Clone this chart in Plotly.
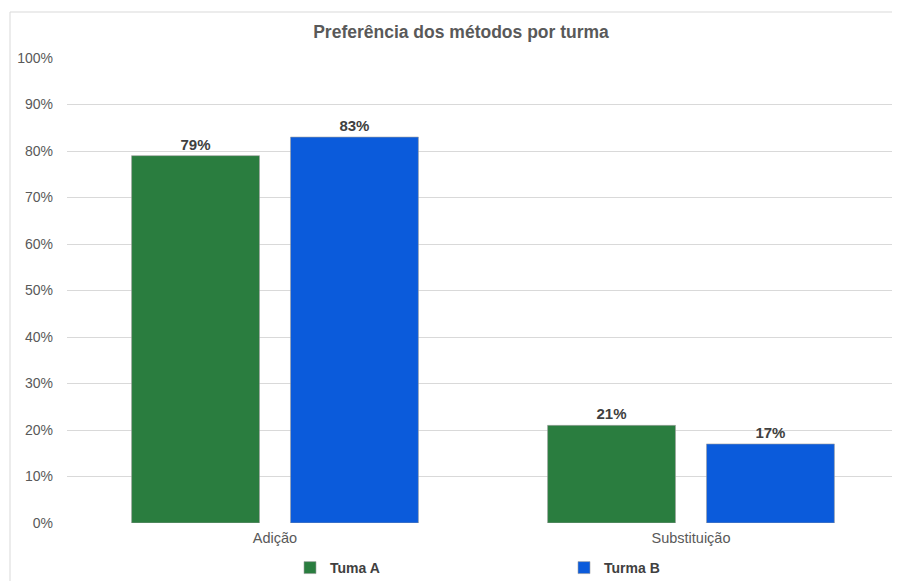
import plotly.graph_objects as go

categories = ["Adição", "Substituição"]
turma_a = [79, 21]
turma_b = [83, 17]
series_names = ["Tuma A", "Turma B"]
tick_vals = [0, 10, 20, 30, 40, 50, 60, 70, 80, 90, 100]
tick_text = [f"{v}%" for v in tick_vals]

green = "#2a7d3f"
blue = "#0b5bdb"
label_font = dict(family="Liberation Sans, Arial", size=15, color="#404040")

fig = go.Figure()
for name, vals, col in [(series_names[0], turma_a, green), (series_names[1], turma_b, blue)]:
    fig.add_trace(go.Bar(
        x=categories, y=vals, name=f"<b>{name}</b>",
        marker=dict(color=col, line=dict(color="rgba(160,160,160,0.6)", width=1)),
        text=[f"<b>{v}%</b>" for v in vals], textposition="outside",
        textfont=label_font, cliponaxis=False,
    ))

# page body has an 8px offset; figure sized to fit the window
OFF = 8
W, H = 892, 573
L, R, T, B = 67 - OFF, 1, 58 - OFF, 58
pw = W - L - R
ph = H - T - B

fig.update_layout(
    width=W, height=H,
    margin=dict(l=L, r=R, t=T, b=B, autoexpand=False),
    paper_bgcolor="white", plot_bgcolor="white",
    barmode="group", bargap=0.236, bargroupgap=0.195,
    title=dict(text="<b>Preferência dos métodos por turma</b>", x=(461 - OFF) / W, xanchor="center",
               y=1 - (32 - OFF) / H, yanchor="middle",
               font=dict(family="Liberation Sans, Arial", size=17.5, color="#595959")),
    font=dict(family="Liberation Sans, Arial", size=14, color="#595959"),
    yaxis=dict(range=[0, 100], tickvals=tick_vals, ticktext=tick_text, showgrid=True,
               gridcolor="#d9d9d9", gridwidth=1, zeroline=False, showline=False,
               ticks="", ticklabelstandoff=13,
               tickfont=dict(family="Liberation Sans, Arial", size=14, color="#595959")),
    xaxis=dict(showline=False, ticks="", showgrid=False, ticklabelstandoff=4,
               tickfont=dict(family="Liberation Sans, Arial", size=14.5, color="#595959")),
    showlegend=True,
    legend=dict(orientation="h", x=(290 - 67) / pw, xanchor="left", y=-(568 - 523) / ph, yanchor="middle",
                entrywidth=229, entrywidthmode="pixels",
                font=dict(family="Liberation Sans, Arial", size=14, color="#404040"),
                itemclick=False, traceorder="normal"),
    shapes=[
        dict(type="line", xref="paper", yref="paper", x0=(10 - 67) / pw, x1=(10 - 67) / pw,
             y0=(523 - 12) / ph, y1=-(B + 5) / ph, line=dict(color="#d9d9d9", width=1)),
        dict(type="line", xref="paper", yref="paper", x0=(10 - 67) / pw, x1=1.01,
             y0=(523 - 12) / ph, y1=(523 - 12) / ph, line=dict(color="#d9d9d9", width=1)),
    ],
)
fig.write_html("out.html")
